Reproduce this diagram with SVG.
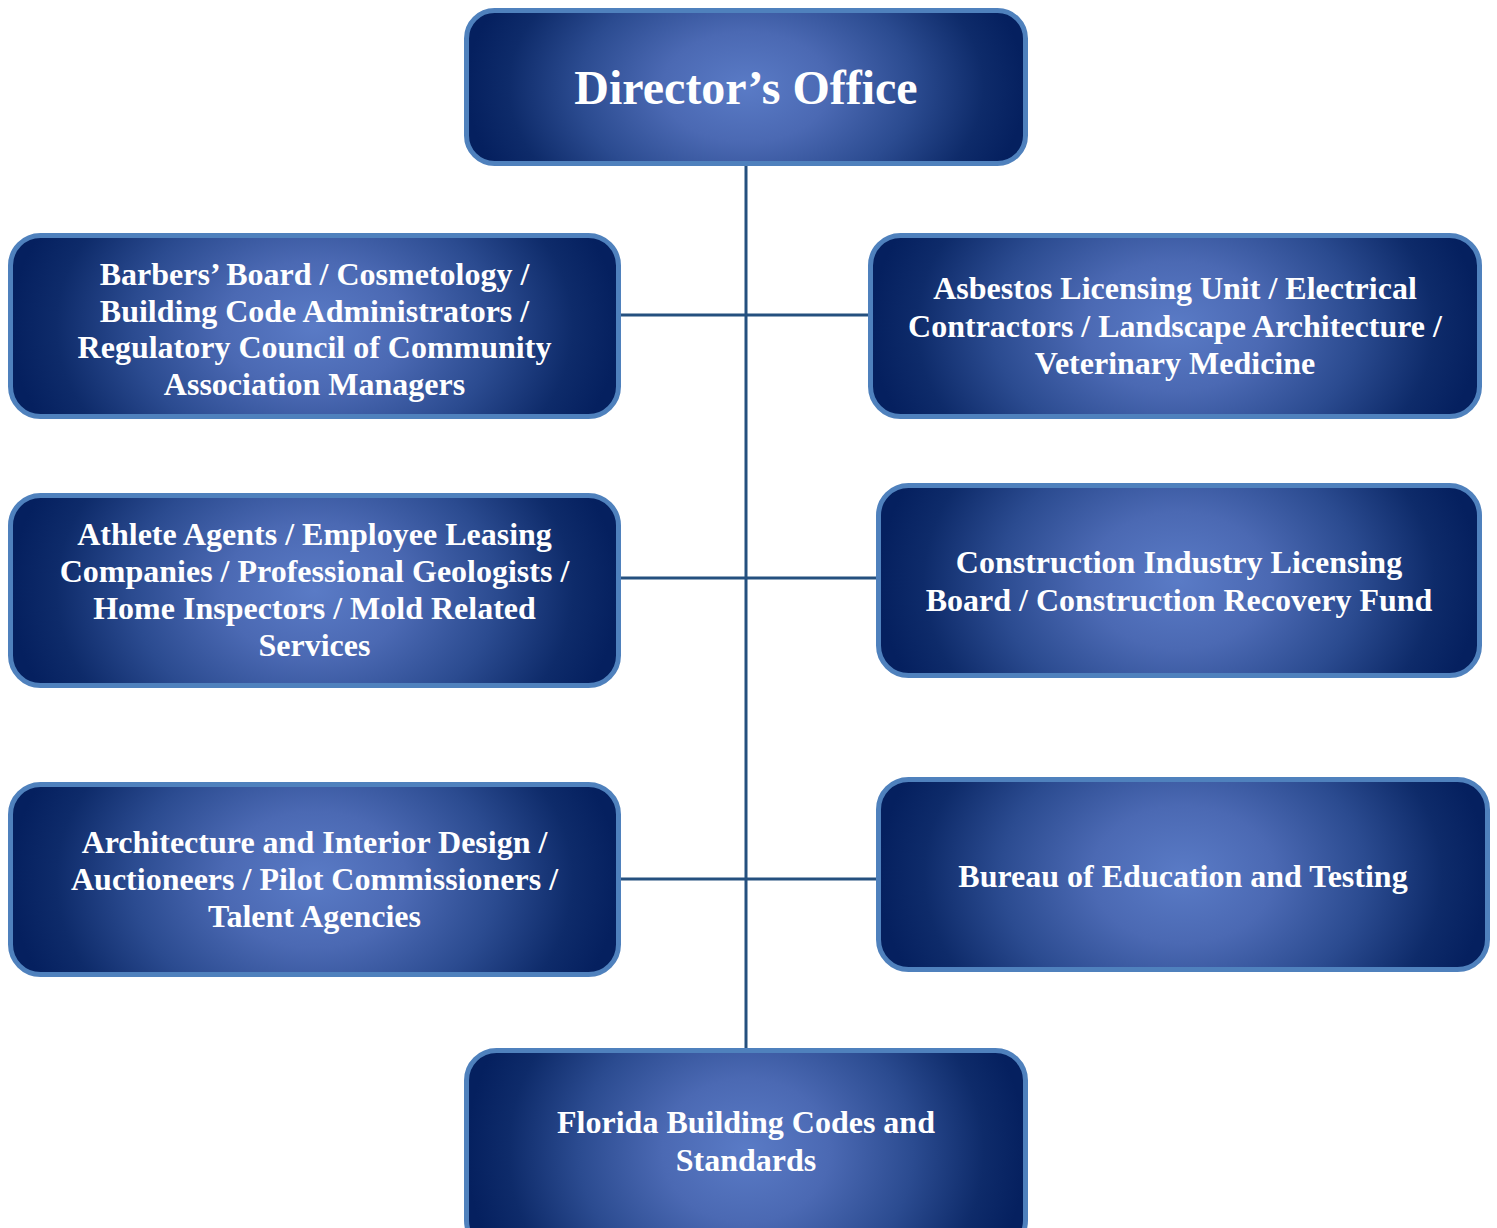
<svg xmlns="http://www.w3.org/2000/svg" width="1497" height="1228" viewBox="0 0 1497 1228">
  <defs>
    <!-- soft light-in-the-middle fill shared by every box -->
    <radialGradient id="boxFill" cx="0.5" cy="0.5" r="0.5" gradientTransform="translate(0 -0.7) scale(1 2.4)">
      <stop offset="0" stop-color="#5A7BC6"/>
      <stop offset="0.3" stop-color="#4B69B3"/>
      <stop offset="0.6" stop-color="#2B4B90"/>
      <stop offset="0.85" stop-color="#0E2B6A"/>
      <stop offset="1" stop-color="#05205F"/>
    </radialGradient>
    <style>
      .box { fill: url(#boxFill); stroke: #4F81BD; stroke-width: 5; }
      .label { font-family: "Liberation Serif", "Times New Roman", serif; font-weight: bold; font-size: 32px; fill: #FFFFFF; text-anchor: middle; }
      .title { font-size: 48px; }
      .link { stroke: #25507F; stroke-width: 3; fill: none; }
    </style>
  </defs>

  <rect width="1497" height="1228" fill="#FFFFFF"/>

  <!-- connectors -->
  <g id="connectors">
    <line class="link" x1="746" y1="166" x2="746" y2="1048"/>
    <line class="link" x1="621" y1="315" x2="868" y2="315"/>
    <line class="link" x1="621" y1="578" x2="876" y2="578"/>
    <line class="link" x1="621" y1="879" x2="876" y2="879"/>
  </g>

  <g id="directors-office">
    <rect class="box" x="466.5" y="10.5" width="559" height="153" rx="28"/>
    <text class="label title" x="746" y="104">Director’s Office</text>
  </g>

  <g id="barbers-cosmetology">
    <rect class="box" x="10.5" y="235.5" width="608" height="181" rx="30"/>
    <text class="label" x="314.5" y="285">Barbers’ Board / Cosmetology /</text>
    <text class="label" x="314.5" y="321.5">Building Code Administrators /</text>
    <text class="label" x="314.5" y="358">Regulatory Council of Community</text>
    <text class="label" x="314.5" y="394.5">Association Managers</text>
  </g>

  <g id="asbestos-electrical">
    <rect class="box" x="870.5" y="235.5" width="609" height="181" rx="30"/>
    <text class="label" x="1175" y="299">Asbestos Licensing Unit / Electrical</text>
    <text class="label" x="1175" y="336.5">Contractors / Landscape Architecture /</text>
    <text class="label" x="1175" y="374">Veterinary Medicine</text>
  </g>

  <g id="athlete-agents">
    <rect class="box" x="10.5" y="495.5" width="608" height="190" rx="30"/>
    <text class="label" x="314.5" y="545">Athlete Agents / Employee Leasing</text>
    <text class="label" x="314.5" y="582">Companies / Professional Geologists /</text>
    <text class="label" x="314.5" y="619">Home Inspectors / Mold Related</text>
    <text class="label" x="314.5" y="656">Services</text>
  </g>

  <g id="construction-industry">
    <rect class="box" x="878.5" y="485.5" width="601" height="190" rx="30"/>
    <text class="label" x="1179" y="573">Construction Industry Licensing</text>
    <text class="label" x="1179" y="611">Board / Construction Recovery Fund</text>
  </g>

  <g id="architecture-interior">
    <rect class="box" x="10.5" y="784.5" width="608" height="190" rx="30"/>
    <text class="label" x="314.5" y="853">Architecture and Interior Design /</text>
    <text class="label" x="314.5" y="889.5">Auctioneers / Pilot Commissioners /</text>
    <text class="label" x="314.5" y="927">Talent Agencies</text>
  </g>

  <g id="education-testing">
    <rect class="box" x="878.5" y="779.5" width="609" height="190" rx="30"/>
    <text class="label" x="1183" y="887">Bureau of Education and Testing</text>
  </g>

  <g id="building-codes">
    <rect class="box" x="466.5" y="1050.5" width="559" height="200" rx="30"/>
    <text class="label" x="746" y="1133">Florida Building Codes and</text>
    <text class="label" x="746" y="1171">Standards</text>
  </g>
</svg>
